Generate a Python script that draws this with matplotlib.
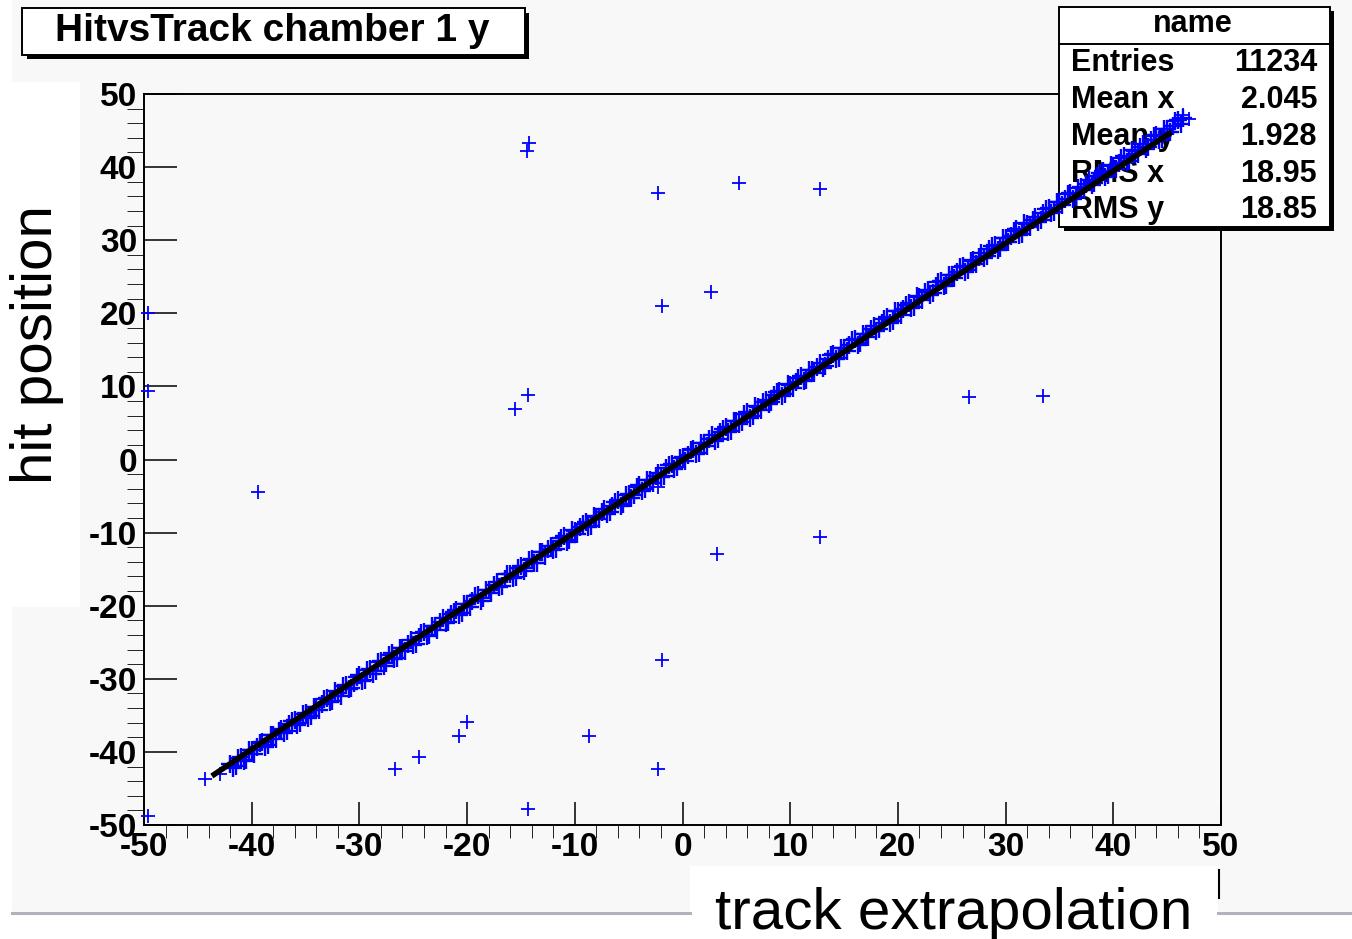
import matplotlib
matplotlib.use("Agg")
from matplotlib import pyplot as plt
from matplotlib.patches import Rectangle
from matplotlib.lines import Line2D

# --- data ---
# dense band of hits along the diagonal (two interleaved sets)
band_x = [-42.0, -41.5, -41.0, -40.5, -40.0, -39.5, -39.0, -38.5, -38.0, -37.5,
          -37.0, -36.5, -36.0, -35.5, -35.0, -34.5, -34.0, -33.5, -33.0, -32.5,
          -32.0, -31.5, -31.0, -30.5, -30.0, -29.5, -29.0, -28.5, -28.0, -27.5,
          -27.0, -26.5, -26.0, -25.5, -25.0, -24.5, -24.0, -23.5, -23.0, -22.5,
          -22.0, -21.5, -21.0, -20.5, -20.0, -19.5, -19.0, -18.5, -18.0, -17.5,
          -17.0, -16.5, -16.0, -15.5, -15.0, -14.5, -14.0, -13.5, -13.0, -12.5,
          -12.0, -11.5, -11.0, -10.5, -10.0, -9.5, -9.0, -8.5, -8.0, -7.5,
          -7.0, -6.5, -6.0, -5.5, -5.0, -4.5, -4.0, -3.5, -3.0, -2.5,
          -2.0, -1.5, -1.0, -0.5, 0.0, 0.5, 1.0, 1.5, 2.0, 2.5,
          3.0, 3.5, 4.0, 4.5, 5.0, 5.5, 6.0, 6.5, 7.0, 7.5,
          8.0, 8.5, 9.0, 9.5, 10.0, 10.5, 11.0, 11.5, 12.0, 12.5,
          13.0, 13.5, 14.0, 14.5, 15.0, 15.5, 16.0, 16.5, 17.0, 17.5,
          18.0, 18.5, 19.0, 19.5, 20.0, 20.5, 21.0, 21.5, 22.0, 22.5,
          23.0, 23.5, 24.0, 24.5, 25.0, 25.5, 26.0, 26.5, 27.0, 27.5,
          28.0, 28.5, 29.0, 29.5, 30.0, 30.5, 31.0, 31.5, 32.0, 32.5,
          33.0, 33.5, 34.0, 34.5, 35.0, 35.5, 36.0, 36.5, 37.0, 37.5,
          38.0, 38.5, 39.0, 39.5, 40.0, 40.5, 41.0, 41.5, 42.0, 42.5,
          43.0, 43.5, 44.0, 44.5, 45.0, 45.5, 46.0, 46.5]
band_y = [-41.6, -41.9, -40.7, -41.1, -39.8, -39.3, -38.6, -39.0, -37.7, -37.2,
          -37.4, -36.2, -35.6, -36.0, -34.7, -35.1, -33.8, -33.4, -32.6, -33.1,
          -31.9, -31.0, -31.4, -30.6, -29.5, -30.1, -28.7, -29.0, -27.6, -27.8,
          -26.5, -27.1, -25.8, -25.2, -25.4, -24.3, -23.6, -24.0, -22.8, -22.2,
          -22.4, -21.1, -20.6, -21.0, -19.7, -19.4, -18.5, -19.0, -17.9, -17.1,
          -17.5, -16.3, -15.7, -16.1, -14.6, -14.9, -13.6, -14.2, -12.7, -12.3,
          -12.4, -11.2, -10.5, -11.0, -9.8, -9.3, -8.6, -9.1, -7.8, -7.2,
          -7.5, -6.3, -5.6, -6.1, -4.7, -4.9, -3.5, -4.1, -2.8, -2.2,
          -2.4, -1.1, -0.6, -1.0, 0.3, 0.6, 1.4, 0.9, 2.2, 2.8,
          2.5, 3.7, 4.4, 3.9, 5.3, 5.1, 6.5, 5.9, 7.2, 7.8,
          7.6, 8.8, 9.4, 8.9, 10.2, 10.6, 11.4, 10.9, 12.3, 12.7,
          12.5, 13.8, 14.4, 13.9, 15.2, 15.6, 16.5, 15.9, 17.2, 17.8,
          17.6, 18.7, 19.5, 18.9, 20.3, 20.6, 21.4, 20.8, 22.2, 22.9,
          22.5, 23.8, 24.4, 23.9, 25.2, 25.7, 26.5, 25.9, 27.3, 27.7,
          27.6, 28.8, 29.4, 28.9, 30.3, 30.6, 31.5, 30.9, 32.2, 32.8,
          32.5, 33.7, 34.4, 33.9, 35.2, 35.6, 36.5, 35.9, 37.3, 37.7,
          37.6, 38.8, 39.4, 38.9, 40.2, 40.6, 41.5, 40.9, 42.2, 42.8,
          42.5, 43.7, 44.4, 43.9, 45.2, 45.6, 46.4, 46.7]

band2_x = [-41.75, -41.25, -40.75, -40.25, -39.75, -39.25, -38.75, -38.25, -37.75, -37.25,
           -36.75, -36.25, -35.75, -35.25, -34.75, -34.25, -33.75, -33.25, -32.75, -32.25,
           -31.75, -31.25, -30.75, -30.25, -29.75, -29.25, -28.75, -28.25, -27.75, -27.25,
           -26.75, -26.25, -25.75, -25.25, -24.75, -24.25, -23.75, -23.25, -22.75, -22.25,
           -21.75, -21.25, -20.75, -20.25, -19.75, -19.25, -18.75, -18.25, -17.75, -17.25,
           -16.75, -16.25, -15.75, -15.25, -14.75, -14.25, -13.75, -13.25, -12.75, -12.25,
           -11.75, -11.25, -10.75, -10.25, -9.75, -9.25, -8.75, -8.25, -7.75, -7.25,
           -6.75, -6.25, -5.75, -5.25, -4.75, -4.25, -3.75, -3.25, -2.75, -2.25,
           -1.75, -1.25, -0.75, -0.25, 0.25, 0.75, 1.25, 1.75, 2.25, 2.75,
           3.25, 3.75, 4.25, 4.75, 5.25, 5.75, 6.25, 6.75, 7.25, 7.75,
           8.25, 8.75, 9.25, 9.75, 10.25, 10.75, 11.25, 11.75, 12.25, 12.75,
           13.25, 13.75, 14.25, 14.75, 15.25, 15.75, 16.25, 16.75, 17.25, 17.75,
           18.25, 18.75, 19.25, 19.75, 20.25, 20.75, 21.25, 21.75, 22.25, 22.75,
           23.25, 23.75, 24.25, 24.75, 25.25, 25.75, 26.25, 26.75, 27.25, 27.75,
           28.25, 28.75, 29.25, 29.75, 30.25, 30.75, 31.25, 31.75, 32.25, 32.75,
           33.25, 33.75, 34.25, 34.75, 35.25, 35.75, 36.25, 36.75, 37.25, 37.75,
           38.25, 38.75, 39.25, 39.75, 40.25, 40.75, 41.25, 41.75, 42.25, 42.75,
           43.25, 43.75, 44.25, 44.75, 45.25, 45.75, 46.25]
band2_y = [-42.2, -40.8, -41.3, -39.8, -40.3, -38.8, -39.3, -37.7, -38.2, -36.8,
           -37.2, -35.8, -36.3, -34.8, -35.3, -33.9, -34.3, -32.8, -33.2, -31.7,
           -32.3, -30.8, -31.2, -29.7, -30.3, -28.8, -29.3, -27.7, -28.2, -26.8,
           -27.3, -25.8, -26.2, -24.7, -25.3, -23.8, -24.2, -22.8, -23.3, -21.7,
           -22.2, -20.8, -21.3, -19.8, -20.2, -18.7, -19.3, -17.8, -18.2, -16.8,
           -17.3, -15.7, -16.2, -14.8, -15.3, -13.8, -14.2, -12.7, -13.2, -11.8,
           -12.2, -10.8, -11.3, -9.7, -10.2, -8.8, -9.3, -7.7, -8.2, -6.8,
           -7.2, -5.8, -6.3, -4.8, -5.2, -3.7, -4.3, -2.8, -3.2, -1.8,
           -2.2, -0.8, -1.3, 0.2, -0.2, 1.3, 0.8, 2.2, 1.8, 3.3,
           2.8, 4.2, 3.7, 5.3, 4.8, 6.2, 5.7, 7.3, 6.8, 8.2,
           7.8, 9.2, 8.7, 10.3, 9.8, 11.2, 10.7, 12.3, 11.8, 13.2,
           12.8, 14.3, 13.7, 15.2, 14.8, 16.3, 15.7, 17.2, 16.8, 18.3,
           17.8, 19.2, 18.7, 20.3, 19.8, 21.2, 20.7, 22.3, 21.8, 23.2,
           22.8, 24.3, 23.7, 25.2, 24.8, 26.3, 25.7, 27.2, 26.8, 28.3,
           27.8, 29.2, 28.7, 30.3, 29.8, 31.2, 30.7, 32.3, 31.8, 33.2,
           32.8, 34.3, 33.7, 35.2, 34.8, 36.3, 35.7, 37.2, 36.8, 38.3,
           37.8, 39.2, 38.7, 40.3, 39.8, 41.2, 40.7, 42.3, 41.8, 43.2,
           42.8, 44.3, 43.7, 45.2, 44.8, 46.3, 45.9]

# isolated hits away from the diagonal
out_x = [-14.25, -14.4, -2.3, 5.2, 12.8, 2.6, -1.9, -49.6, -49.6, -14.35,
         -15.55, -39.4, 26.6, 33.5, -2.3, 3.2, 12.8, -1.9, -8.7, -20.0,
         -20.75, -24.5, -26.7, -2.3, -14.3, -49.6, -44.3, -42.9, -41.5,
         46.5, 47.0]
out_y = [43.3, 42.2, 36.5, 37.8, 37.0, 22.9, 21.0, 20.0, 9.4, 8.8,
         6.9, -4.4, 8.6, 8.7, -3.8, -12.9, -10.6, -27.4, -37.8, -35.9,
         -37.8, -40.7, -42.3, -42.3, -47.8, -48.8, -43.7, -43.0, -41.9,
         47.1, 46.6]

fit_x = [-43.7, 45.4]
fit_y = [-43.3, 44.8]

stat_names = ["Entries", "Mean x", "Mean y", "RMS x", "RMS y"]
stat_values = ["11234", "2.045", "1.928", "18.95", "18.85"]

title = "HitvsTrack chamber 1 y"
xlabel = "track extrapolation"
ylabel = "hit position"

# --- figure ---
W, H = 1352, 939
plt.rcParams['font.family'] = ['Liberation Sans', 'DejaVu Sans']
plt.rcParams['axes.unicode_minus'] = False
fig = plt.figure(figsize=(W / 100, H / 100), dpi=100, facecolor='white')


def fx(px):
    return px / W


def fy(py):
    return 1 - py / H


canvas = '#f8f8f8'
# canvas background and white label patches
fig.patches.append(Rectangle((fx(12), fy(912)), fx(1352) - fx(12), fy(0) - fy(912),
                             transform=fig.transFigure, fc=canvas, ec='none', zorder=-10))
fig.patches.append(Rectangle((0, fy(607)), fx(80), fy(82) - fy(607),
                             transform=fig.transFigure, fc='white', ec='none', zorder=-9))
fig.patches.append(Rectangle((fx(690), 0), fx(1218) - fx(690), fy(866),
                             transform=fig.transFigure, fc='white', ec='none', zorder=-9))
fig.lines.append(Line2D([fx(12), fx(690)], [fy(913), fy(913)], transform=fig.transFigure,
                        color='#b4b0bc', lw=2.2))
fig.lines.append(Line2D([fx(1218), fx(1352)], [fy(913), fy(913)], transform=fig.transFigure,
                        color='#b4b0bc', lw=2.2))
fig.lines.append(Line2D([fx(1219), fx(1219)], [fy(870), fy(898)], transform=fig.transFigure,
                        color='black', lw=1.5))

ax = fig.add_axes([fx(144), fy(825), fx(1221) - fx(144), fy(94) - fy(825)])
ax.set_facecolor(canvas)

ax.plot(band_x, band_y, linestyle='none', marker='+', color='#0000ff',
        markersize=12.5, markeredgewidth=1.7, zorder=3)
ax.plot(band2_x, band2_y, linestyle='none', marker='+', color='#0000ff',
        markersize=12.5, markeredgewidth=1.7, zorder=3)
ax.plot(out_x, out_y, linestyle='none', marker='+', color='#0000ff',
        markersize=10, markeredgewidth=1.3, zorder=3, clip_on=False)
ax.plot(fit_x, fit_y, color='black', lw=4, solid_capstyle='butt', zorder=3.1)

ax.set_xlim(-50, 50)
ax.set_ylim(-50, 50)
ax.set_xticks(range(-50, 51, 10))
ax.set_yticks(range(-50, 51, 10))
ax.set_xticks(range(-50, 51, 2), minor=True)
ax.set_yticks(range(-50, 51, 2), minor=True)
ax.tick_params(axis='both', direction='in', width=1.1, labelsize=24, top=False, right=False)
ax.tick_params(axis='x', which='major', length=16.5, pad=5)
ax.tick_params(axis='x', which='minor', length=9.5)
ax.tick_params(axis='y', which='major', length=24, pad=5)
ax.tick_params(axis='y', which='minor', length=12)
for lab in ax.get_xticklabels() + ax.get_yticklabels():
    lab.set_fontweight('bold')
for sp in ax.spines.values():
    sp.set_linewidth(1.4)

# stats box (above the frame, below the data)
ax.add_patch(Rectangle((fx(1064), fy(231)), fx(1334) - fx(1064), fy(11) - fy(231),
                       transform=fig.transFigure, fc='black', ec='none',
                       zorder=2.6, clip_on=False))
ax.add_patch(Rectangle((fx(1059), fy(227)), fx(1330) - fx(1059), fy(7) - fy(227),
                       transform=fig.transFigure, fc='white', ec='black', lw=1.4,
                       zorder=2.65, clip_on=False))
ax.add_line(Line2D([fx(1059), fx(1330)], [fy(44), fy(44)], transform=fig.transFigure,
                   color='black', lw=1.4, zorder=2.7, clip_on=False))
ax.text(fx(1193), fy(24), "name", transform=fig.transFigure, ha='center', va='center',
        fontsize=22, fontweight='bold', zorder=2.7)
row_y = [63, 100, 137, 174, 210]
for name, val, ry in zip(stat_names, stat_values, row_y):
    ax.text(fx(1071), fy(ry), name, transform=fig.transFigure, ha='left', va='center',
            fontsize=22, fontweight='bold', zorder=2.7)
    ax.text(fx(1317), fy(ry), val, transform=fig.transFigure, ha='right', va='center',
            fontsize=22, fontweight='bold', zorder=2.7)

# title box
fig.patches.append(Rectangle((fx(27), fy(59)), fx(529) - fx(27), fy(13) - fy(59),
                             transform=fig.transFigure, fc='black', ec='none', zorder=1))
fig.patches.append(Rectangle((fx(22), fy(55)), fx(525) - fx(22), fy(8) - fy(55),
                             transform=fig.transFigure, fc='white', ec='black', lw=1.4, zorder=2))
fig.text(fx(272), fy(31), title, ha='center', va='center', fontsize=28, fontweight='bold', zorder=3)

# axis titles
fig.text(fx(954), fy(929), xlabel, ha='center', va='baseline', fontsize=42)
fig.text(fx(37), fy(345), ylabel, ha='center', va='center', rotation=90, fontsize=42)

fig.savefig("out.png", dpi=100, facecolor='white')
